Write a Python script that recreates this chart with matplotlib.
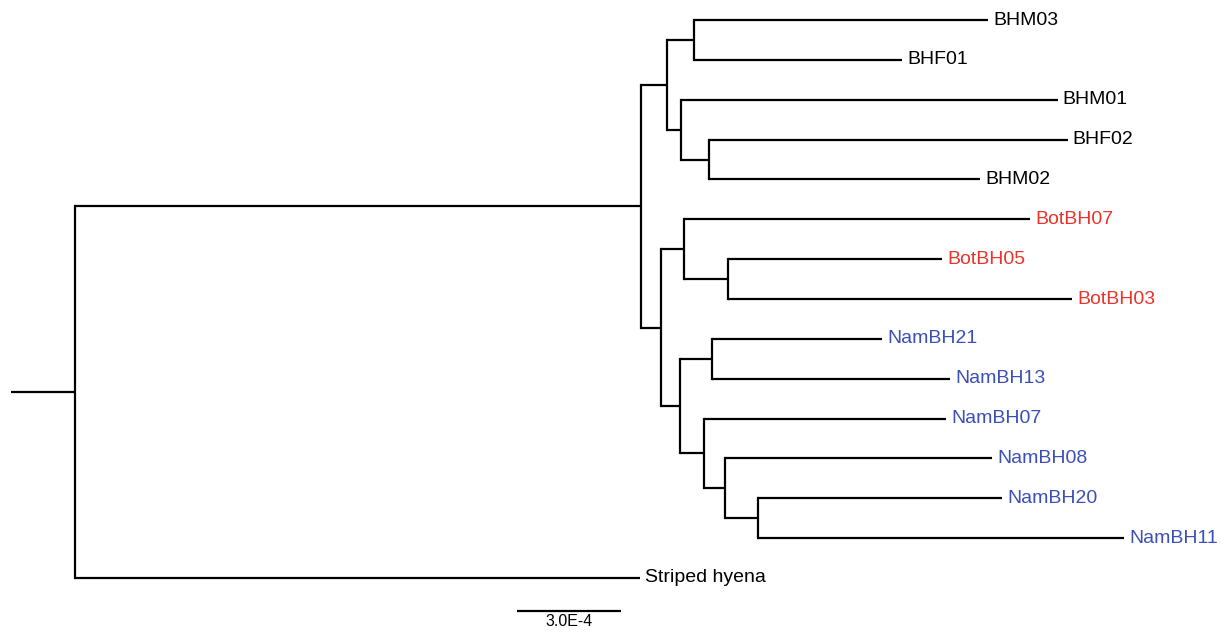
import matplotlib
matplotlib.use("Agg")
import matplotlib.pyplot as plt

# Tree as parent table; branch lengths in substitutions/site
nodes = ["root", "Striped hyena", "ingroup", "BH", "BHa", "BHM03", "BHF01",
         "BHb", "BHM01", "BHc", "BHF02", "BHM02", "BotNam", "Bot", "BotBH07",
         "Bota", "BotBH05", "BotBH03", "Nam", "Nama", "NamBH21", "NamBH13",
         "Namb", "NamBH07", "Namc", "NamBH08", "Namd", "NamBH20", "NamBH11"]
parents = [None, "root", "root", "ingroup", "BH", "BHa", "BHa",
           "BH", "BHb", "BHb", "BHc", "BHc", "ingroup", "BotNam", "Bot",
           "Bot", "Bota", "Bota", "BotNam", "Nam", "Nama", "Nama",
           "Nam", "Namb", "Namb", "Namc", "Namc", "Namd", "Namd"]
lengths = [1.85e-4, 16.30e-4, 16.33e-4, 0.75e-4, 0.78e-4, 8.48e-4, 6.00e-4,
           0.40e-4, 10.87e-4, 0.81e-4, 10.35e-4, 7.82e-4, 0.58e-4, 0.66e-4, 9.98e-4,
           1.27e-4, 6.17e-4, 9.92e-4, 0.55e-4, 0.92e-4, 4.90e-4, 6.86e-4,
           0.69e-4, 6.98e-4, 0.61e-4, 7.70e-4, 0.95e-4, 7.04e-4, 10.56e-4]

leaf_order = ["BHM03", "BHF01", "BHM01", "BHF02", "BHM02", "BotBH07", "BotBH05",
              "BotBH03", "NamBH21", "NamBH13", "NamBH07", "NamBH08", "NamBH20",
              "NamBH11", "Striped hyena"]
group_colors = {"BH": "black", "Bot": "#e8342b", "Nam": "#3b4fb8"}

scale_len = 3.0e-4
scale_label = "3.0E-4"

blen = dict(zip(nodes, lengths))
par = dict(zip(nodes, parents))
children = {n: [c for c in nodes if par[c] == n] for n in nodes}

# x: distance from root
xpos = {"root": 0.0}
for n in nodes[1:]:
    xpos[n] = xpos[par[n]] + blen[n]

ypos = {}
def place(n):
    if not children[n]:
        ypos[n] = leaf_order.index(n)
    else:
        ys = [place(c) for c in children[n]]
        ypos[n] = (min(ys) + max(ys)) / 2
    return ypos[n]
place("root")

def leaf_color(n):
    if n.startswith("Bot"):
        return group_colors["Bot"]
    if n.startswith("Nam"):
        return group_colors["Nam"]
    return "black"

px = scale_len / 104.0  # one pixel in data units
fig = plt.figure(figsize=(12.3, 6.33), dpi=100)
ax = fig.add_axes([0, 0, 1, 1])
lw = 1.6

# root stem
ax.plot([-blen["root"], 0], [ypos["root"]] * 2, color="black", lw=lw, solid_capstyle="butt")
for n in nodes[1:]:
    p = par[n]
    ax.plot([xpos[p], xpos[n]], [ypos[n]] * 2, color="black", lw=lw, solid_capstyle="butt")
for n in nodes:
    if children[n]:
        ys = [ypos[c] for c in children[n]]
        ax.plot([xpos[n]] * 2, [min(ys), max(ys)], color="black", lw=lw, solid_capstyle="projecting")

for n in leaf_order:
    ax.text(xpos[n] + 5 * px, ypos[n], n, color=leaf_color(n), fontsize=14,
            family="Liberation Sans", va="center", ha="left")

# scale bar
sb_x0 = 442 * px
ax.plot([sb_x0, sb_x0 + scale_len], [14.83, 14.83], color="black", lw=lw, solid_capstyle="butt")
ax.text(sb_x0 + scale_len / 2, 15.1, scale_label, fontsize=11.5, family="Liberation Sans",
        ha="center", va="center")

ax.set_xlim(-75 * px, (1230 - 75) * px)
ax.set_ylim(15.38, -0.502)
ax.axis("off")
fig.savefig("out.png", dpi=100)
